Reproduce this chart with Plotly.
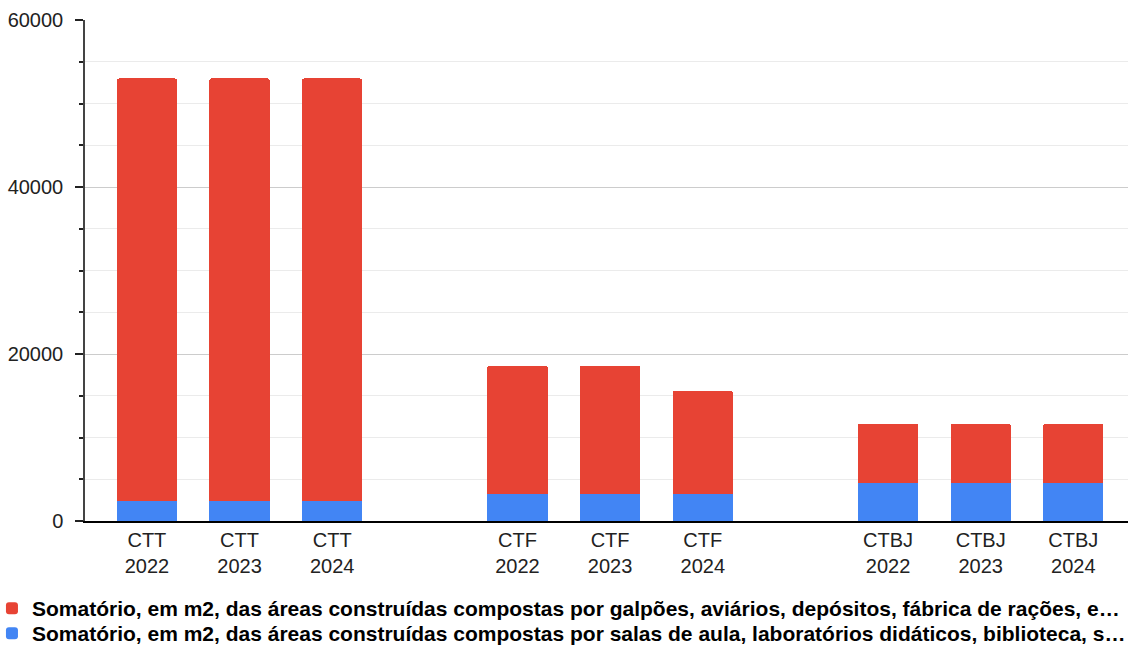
import plotly.graph_objects as go

# Campus units and years shown on the category axis
campi = ["CTT", "CTF", "CTBJ"]
anos = ["2022", "2023", "2024"]

# Built area (m2) per campus/year, same order as the labels (campus-major)
area_ensino = [2360, 2360, 2360, 3200, 3200, 3200, 4590, 4590, 4590]
area_producao = [50640, 50640, 50640, 15400, 15400, 12400, 7060, 7060, 7060]

nome_producao = ("Somatório, em m2, das áreas construídas compostas por galpões, "
                 "aviários, depósitos, fábrica de rações, e…")
nome_ensino = ("Somatório, em m2, das áreas construídas compostas por salas de aula, "
               "laboratórios didáticos, biblioteca, s…")

# One empty slot between campus groups
posicoes, rotulos = [], []
for g, campus in enumerate(campi):
    for a, ano in enumerate(anos):
        posicoes.append(g * (len(anos) + 1) + a)
        rotulos.append(f"{campus}<br>{ano}")

AZUL = "#4285f4"
VERMELHO = "#e74334"
FONTE = "Liberation Sans, Arial, sans-serif"
FONTE_LEGENDA = dict(family=FONTE, size=21, color="#000000", weight="bold")

fig = go.Figure()
fig.add_trace(go.Bar(x=posicoes, y=area_ensino, name=nome_ensino, legend="legend2",
                     marker=dict(color=AZUL, line=dict(width=0)), width=0.65))
fig.add_trace(go.Bar(x=posicoes, y=area_producao, name=nome_producao, legend="legend",
                     marker=dict(color=VERMELHO, line=dict(width=0)), width=0.65))

fig.update_layout(
    width=1128, height=646,
    margin=dict(l=85, r=0, t=20, b=125, autoexpand=False),
    barmode="stack",
    barcornerradius=2,
    plot_bgcolor="white",
    paper_bgcolor="white",
    font=dict(family=FONTE, size=20, color="#222222"),
    showlegend=True,
    # one legend row per series, stacked below the axis
    legend=dict(
        xref="paper", yref="paper",
        x=-0.0892, y=-0.1337, xanchor="left", yanchor="top",
        font=FONTE_LEGENDA, itemwidth=30,
        bgcolor="rgba(0,0,0,0)",
    ),
    legend2=dict(
        xref="paper", yref="paper",
        x=-0.0892, y=-0.1836, xanchor="left", yanchor="top",
        font=FONTE_LEGENDA, itemwidth=30,
        bgcolor="rgba(0,0,0,0)",
    ),
)

fig.update_xaxes(
    range=[-0.668, 10.59],
    tickmode="array", tickvals=posicoes, ticktext=rotulos,
    tickfont=dict(size=20, color="#222222"),
    tickangle=0,
    showgrid=False, zeroline=False,
    showline=True, linecolor="#000000", linewidth=1.5,
    ticks="", ticklabelstandoff=0,
)
fig.update_yaxes(
    range=[0, 60000], dtick=20000, tickformat="d",
    tickfont=dict(size=20, color="#222222"),
    showgrid=True, gridcolor="#cccccc", gridwidth=1,
    zeroline=False,
    showline=True, linecolor="#444444", linewidth=1.5,
    ticks="outside", ticklen=8, tickcolor="#222222", tickwidth=1.5,
    ticklabelstandoff=8,
    minor=dict(dtick=5000, showgrid=True, gridcolor="#ebebeb",
               ticks="outside", ticklen=4, tickcolor="#222222", tickwidth=1.5),
)

fig.write_html("out.html")
